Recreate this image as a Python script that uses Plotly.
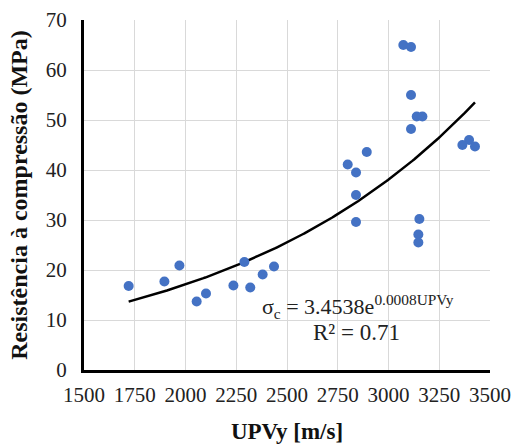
import numpy as np
import plotly.graph_objects as go

upv = [3073, 3111, 3111, 3139, 3167, 3111, 3397, 3364, 3426, 2893, 2799, 2840, 2840,
       2840, 3152, 3147, 3147, 1720, 1896, 1970, 2055, 2101, 2236, 2290, 2319, 2380, 2436]
sigma = [65.0, 64.6, 55.0, 50.7, 50.7, 48.2, 46.0, 45.0, 44.7, 43.6, 41.1, 39.5, 35.0,
         29.6, 30.2, 27.1, 25.5, 16.8, 17.7, 20.9, 13.7, 15.3, 16.9, 21.6, 16.5, 19.1, 20.7]
fit_a = 3.4538
fit_b = 0.0008
x_ticks = [1500, 1750, 2000, 2250, 2500, 2750, 3000, 3250, 3500]
y_ticks = [0, 10, 20, 30, 40, 50, 60, 70]

xf = np.linspace(min(upv), max(upv), 200)
yf = fit_a * np.exp(fit_b * xf)

font = "Liberation Serif"

fig = go.Figure()
fig.add_trace(go.Scatter(x=xf, y=yf, mode="lines",
                         line=dict(color="black", width=2.5), showlegend=False))
fig.add_trace(go.Scatter(x=upv, y=sigma, mode="markers",
                         marker=dict(color="#4472C4", size=10), showlegend=False))

fig.add_annotation(x=2848, y=12.8, xref="x", yref="y", showarrow=False,
                   text="σ<sub>c</sub> = 3.4538e<sup>0.0008UPVy</sup>",
                   font=dict(family=font, size=22, color="#222"),
                   xanchor="center", yanchor="middle")
fig.add_annotation(x=2840, y=7.5, xref="x", yref="y", showarrow=False,
                   text="R² = 0.71",
                   font=dict(family=font, size=23, color="#222"),
                   xanchor="center", yanchor="middle")

fig.update_layout(
    width=513, height=446,
    margin=dict(l=84, r=23, t=20, b=76),
    paper_bgcolor="white", plot_bgcolor="white",
    font=dict(family=font, size=21, color="#222"),
    xaxis=dict(range=[1500, 3500], tickvals=x_ticks, showgrid=True, automargin=False,
               gridcolor="#d9d9d9", gridwidth=1, showline=True, linecolor="black",
               linewidth=3, zeroline=False, ticks="", ticklabelstandoff=4,
               tickfont=dict(family=font, size=21, color="#222"),
               title=dict(text="<b>UPVy [m/s]</b>", font=dict(family=font, size=23, color="#111"),
                          standoff=17)),
    yaxis=dict(range=[0, 70], tickvals=y_ticks, showgrid=True, automargin=False,
               gridcolor="#d9d9d9", gridwidth=1, showline=True, linecolor="black",
               linewidth=3, zeroline=False, ticks="", ticklabelstandoff=10,
               tickfont=dict(family=font, size=21, color="#222"),
               title=dict(text="<b>Resistência à compressão (MPa)</b>",
                          font=dict(family=font, size=24, color="#111"), standoff=12)),
)

fig.write_html("out.html", config={"displayModeBar": False},
               post_script="document.body.style.margin='0px';document.body.style.overflow='hidden';")
